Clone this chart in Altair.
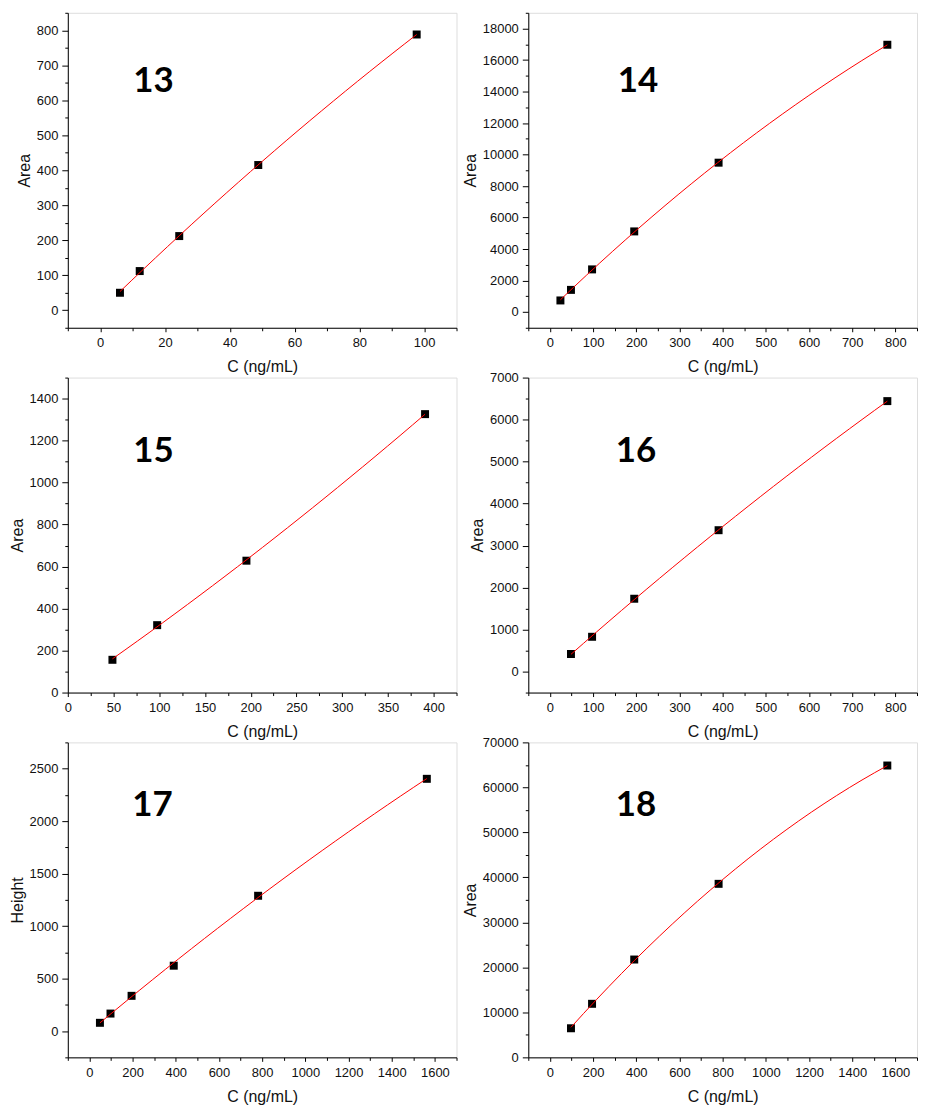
import altair as alt
import pandas as pd

# ---------------- data ----------------
c13 = [6.1, 12.2, 24.4, 48.8, 97.7]
v13 = [50, 112, 212, 415, 788]
c14 = [24.4, 48.8, 97.7, 195.3, 390.6, 781.3]
v14 = [734, 1405, 2706, 5118, 9482, 16971]
c15 = [48.8, 97.7, 195.3, 390.6]
v15 = [156, 321, 628, 1326]
c16 = [48.8, 97.7, 195.3, 390.6, 781.3]
v16 = [418, 828, 1734, 3366, 6440]
c17 = [48.8, 97.7, 195.3, 390.6, 781.3, 1562.5]
v17 = [79, 167, 336, 623, 1289, 2403]
c18 = [97.7, 195.3, 390.6, 781.3, 1562.5]
v18 = [6464, 11900, 21742, 38563, 64860]

labels = ["13", "14", "15", "16", "17", "18"]
ytitles = ["Area", "Area", "Area", "Area", "Height", "Area"]
xtitle = "C (ng/mL)"

# axis domains
xdom13, ydom13 = [-10, 110], [-50, 850]
xdom14, ydom14 = [-50, 850], [-1000, 19000]
xdom15, ydom15 = [0, 425], [0, 1500]
xdom16, ydom16 = [-50, 850], [-500, 7000]
xdom17, ydom17 = [-100, 1700], [-250, 2750]
xdom18, ydom18 = [-100, 1700], [0, 70000]

# tick values (all ticks) and labelled (major) ticks
xt13 = [-10, 0, 10, 20, 30, 40, 50, 60, 70, 80, 90, 100, 110]
xm13 = [0, 20, 40, 60, 80, 100]
yt13 = [-50, 0, 50, 100, 150, 200, 250, 300, 350, 400, 450, 500, 550, 600, 650, 700, 750, 800, 850]
ym13 = [0, 100, 200, 300, 400, 500, 600, 700, 800]

xt14 = [-50, 0, 50, 100, 150, 200, 250, 300, 350, 400, 450, 500, 550, 600, 650, 700, 750, 800, 850]
xm14 = [0, 100, 200, 300, 400, 500, 600, 700, 800]
yt14 = [-1000, 0, 1000, 2000, 3000, 4000, 5000, 6000, 7000, 8000, 9000, 10000,
        11000, 12000, 13000, 14000, 15000, 16000, 17000, 18000, 19000]
ym14 = [0, 2000, 4000, 6000, 8000, 10000, 12000, 14000, 16000, 18000]

xt15 = [0, 25, 50, 75, 100, 125, 150, 175, 200, 225, 250, 275, 300, 325, 350, 375, 400, 425]
xm15 = [0, 50, 100, 150, 200, 250, 300, 350, 400]
yt15 = [0, 100, 200, 300, 400, 500, 600, 700, 800, 900, 1000, 1100, 1200, 1300, 1400, 1500]
ym15 = [0, 200, 400, 600, 800, 1000, 1200, 1400]

xt16 = xt14
xm16 = xm14
yt16 = [-500, 0, 500, 1000, 1500, 2000, 2500, 3000, 3500, 4000, 4500, 5000, 5500, 6000, 6500, 7000]
ym16 = [0, 1000, 2000, 3000, 4000, 5000, 6000, 7000]

xt17 = [-100, 0, 100, 200, 300, 400, 500, 600, 700, 800, 900, 1000, 1100, 1200,
        1300, 1400, 1500, 1600, 1700]
xm17 = [0, 200, 400, 600, 800, 1000, 1200, 1400, 1600]
yt17 = [-250, 0, 250, 500, 750, 1000, 1250, 1500, 1750, 2000, 2250, 2500, 2750]
ym17 = [0, 500, 1000, 1500, 2000, 2500]

xt18 = xt17
xm18 = xm17
yt18 = [0, 5000, 10000, 15000, 20000, 25000, 30000, 35000, 40000, 45000, 50000,
        55000, 60000, 65000, 70000]
ym18 = [0, 10000, 20000, 30000, 40000, 50000, 60000, 70000]

# ---------------- styling ----------------
W, H = 390, 316
FONT = "Liberation Sans"


def make_axis(title, ticks, majors, orient, major_size, minor_size, label_pad, title_pad):
    test = "indexof(%s, datum.value) >= 0" % str(majors)
    return alt.Axis(
        title=title,
        orient=orient,
        values=ticks,
        tickCount=len(ticks) + 5,
        labelExpr="%s ? datum.label : ''" % test,
        labelFontSize={"condition": {"test": test, "value": 13}, "value": 0},
        tickSize={"condition": {"test": test, "value": major_size}, "value": minor_size},
        labelOverlap=False,
        labelFlush=False,
        grid=False,
        domainColor="black",
        tickColor="black",
        labelColor="#111111",
        titleColor="#111111",
        labelFont=FONT,
        titleFont=FONT,
        titleFontSize=16,
        titleFontWeight="normal",
        labelPadding=label_pad,
        titlePadding=title_pad,
        format="d",
    )


def panel(c, v, ytitle, xdom, ydom, xt, xm, yt, ym, lab, lx, ly):
    df = pd.DataFrame({"c": c, "v": v})
    x = alt.X("c:Q", scale=alt.Scale(domain=xdom, nice=False, zero=False),
              axis=make_axis(xtitle, xt, xm, "bottom", 4, 3, 5, 9))
    y = alt.Y("v:Q", scale=alt.Scale(domain=ydom, nice=False, zero=False),
              axis=make_axis(ytitle, yt, ym, "left", 6, 3, 4, 4))
    base = alt.Chart(df)
    pts = base.mark_point(shape="square", filled=True, size=64, color="black",
                          opacity=1).encode(x=x, y=y)
    fit = base.transform_regression("c", "v", method="poly", order=2).mark_line(
        color="#ff0000", strokeWidth=1).encode(x="c:Q", y="v:Q")
    txt = alt.Chart(pd.DataFrame({"t": [lab]})).mark_text(
        font="Lato", fontWeight="bold", fontSize=35, align="center",
        baseline="alphabetic", color="black").encode(
        text="t:N", x=alt.value(lx), y=alt.value(ly))
    return alt.layer(pts, fit, txt).properties(width=W, height=H)


p13 = panel(c13, v13, ytitles[0], xdom13, ydom13, xt13, xm13, yt13, ym13, labels[0], 86, 79)
p14 = panel(c14, v14, ytitles[1], xdom14, ydom14, xt14, xm14, yt14, ym14, labels[1], 110, 79)
p15 = panel(c15, v15, ytitles[2], xdom15, ydom15, xt15, xm15, yt15, ym15, labels[2], 86, 85)
p16 = panel(c16, v16, ytitles[3], xdom16, ydom16, xt16, xm16, yt16, ym16, labels[3], 108, 85)
p17 = panel(c17, v17, ytitles[4], xdom17, ydom17, xt17, xm17, yt17, ym17, labels[4], 85, 74)
p18 = panel(c18, v18, ytitles[5], xdom18, ydom18, xt18, xm18, yt18, ym18, labels[5], 108, 74)

chart = alt.concat(p13, p14, p15, p16, p17, p18, columns=2,
                   spacing={"row": -5, "column": 4}).properties(
    padding={"left": 0, "top": 2, "right": 0, "bottom": 0}
).configure_view(stroke=None).configure(background="white")

chart.save("out.html", embed_options={"renderer": "svg", "actions": False})
